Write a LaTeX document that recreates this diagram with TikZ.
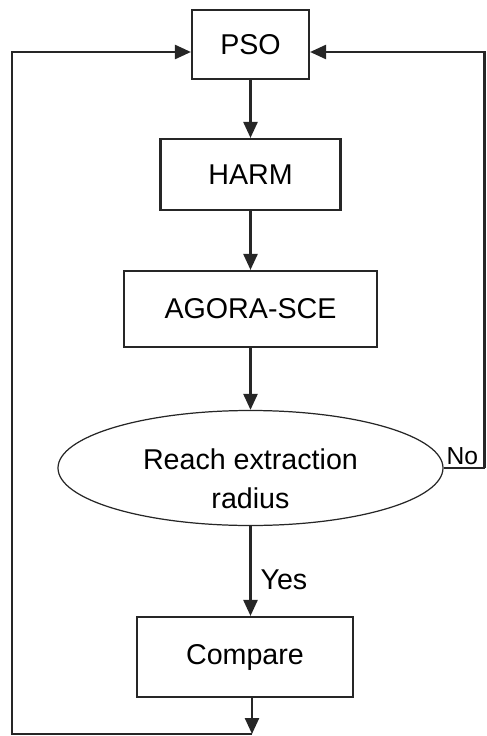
\documentclass[tikz,border=0pt]{standalone}
\usepackage{fontspec}
\setmainfont{Liberation Sans}
\usetikzlibrary{arrows.meta,positioning,shapes.geometric}

\begin{document}
\begin{tikzpicture}[
  box/.style={draw=black!85, line width=1.2pt, align=center, inner sep=0pt,
    font=\fontsize{16.3}{20}\selectfont},
  oval/.style={draw=black!85, ellipse, line width=.7pt, inner sep=0pt,
    font=\fontsize{16.3}{22.4}\selectfont},
  flow/.style={-{Triangle[length=.32cm,width=.28cm]}, line width=1.4pt, draw=black!85},
  plain/.style={line width=1.4pt, draw=black!85},
  lbl/.style={font=\fontsize{16.3}{20}\selectfont, inner sep=1pt}
]
\useasboundingbox (0,0) rectangle (9.72,-14.72);

\node[box, minimum width=2.34cm, minimum height=1.38cm] (pso) at (5.01,-0.89) {PSO};
\node[box, minimum width=3.6cm, minimum height=1.42cm] (harm) at (5.01,-3.49) {HARM};
\node[box, minimum width=5.06cm, minimum height=1.52cm] (agora) at (5.01,-6.18) {AGORA-SCE};
\node[oval, minimum width=7.7cm, minimum height=2.3cm] (reach) at (5.01,-9.36)
  {\raisebox{-.26cm}[\height][\depth]{\begin{tabular}{@{}c@{}}Reach extraction\\radius\end{tabular}}};
\node[box, minimum width=4.32cm, minimum height=1.6cm] (compare) at (4.90,-13.14) {Compare};

\coordinate (loopb) at (5.04,-14.68);
\coordinate (loopl) at (0.24,-14.68);
\coordinate (rturn) at (9.69,-9.36);

\draw[flow] (pso) -- (harm);
\draw[flow] (harm) -- (agora);
\draw[flow] (agora) -- (reach);
\draw[flow] (reach.south) -- node[lbl, pos=.6, right=4pt]{Yes} (reach.south |- compare.north);
\draw[flow] (compare.south -| loopb) -- (loopb);
\draw[flow] (loopb) -- (loopl) |- ([yshift=-.15cm]pso.west);
\draw[plain] (reach.east) -- node[lbl, pos=0, anchor=south west, font=\fontsize{14}{16}\selectfont]{No} (rturn);
\draw[flow] (rturn) |- ([yshift=-.15cm]pso.east);
\end{tikzpicture}
\end{document}
